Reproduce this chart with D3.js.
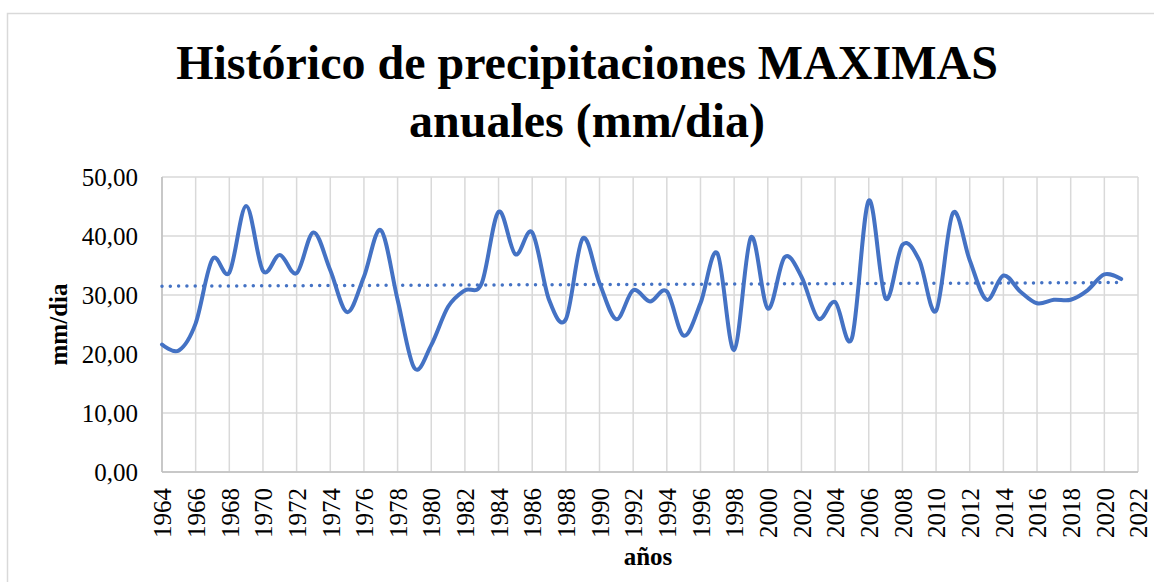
<!DOCTYPE html>
<html>
<head>
<meta charset="utf-8">
<script src="https://cdn.jsdelivr.net/npm/d3@7"></script>
<style>
  html, body { margin: 0; padding: 0; background: #fff; }
  svg text { font-family: "Liberation Serif", "Times New Roman", serif; fill: #000; }
</style>
</head>
<body>
<div id="chart"></div>
<script>
// data
const years = d3.range(1964, 2022);
const maxRain = [
  21.6, 20.6, 25.2, 36.1, 33.8, 45.1, 34.1, 36.8, 33.7, 40.6,
  34.2, 27.1, 33.1, 41.0, 29.2, 17.6, 21.5, 28.0, 30.8, 32.0,
  44.1, 36.9, 40.6, 29.2, 25.9, 39.6, 32.0, 25.9, 30.8, 28.9,
  30.6, 23.1, 28.6, 37.1, 20.7, 39.8, 27.7, 36.4, 33.1, 26.0,
  28.8, 22.7, 46.0, 29.4, 38.5, 35.9, 27.3, 43.9, 35.9, 29.2,
  33.3, 30.6, 28.6, 29.2, 29.2, 30.8, 33.5, 32.7
];
const yTicks = [0, 10, 20, 30, 40, 50];
const xTicks = d3.range(1964, 2023, 2);

const W = 1154, H = 582;
const plot = { left: 162, right: 1138, top: 177, bottom: 472 };

const svg = d3.select("#chart").append("svg")
  .attr("width", W).attr("height", H);

// chart border
svg.append("rect")
  .attr("x", 7.5).attr("y", 13.5)
  .attr("width", W + 20).attr("height", H + 20)
  .attr("fill", "#fff").attr("stroke", "#d9d9d9").attr("stroke-width", 1.5);

const x = d3.scaleLinear().domain([1964, 2022]).range([plot.left, plot.right]);
const y = d3.scaleLinear().domain([0, 50]).range([plot.bottom, plot.top]);

// grid
const grid = svg.append("g");
grid.selectAll("line.h").data(yTicks).join("line")
  .attr("x1", plot.left).attr("x2", plot.right)
  .attr("y1", d => y(d)).attr("y2", d => y(d))
  .attr("stroke", "#d9d9d9").attr("stroke-width", 1.5);
grid.selectAll("line.v").data(xTicks).join("line")
  .attr("x1", d => x(d)).attr("x2", d => x(d))
  .attr("y1", plot.top).attr("y2", plot.bottom)
  .attr("stroke", "#d9d9d9").attr("stroke-width", 1.5);
// axis baseline + left edge
svg.append("line")
  .attr("x1", plot.left).attr("x2", plot.right)
  .attr("y1", plot.bottom).attr("y2", plot.bottom)
  .attr("stroke", "#bfbfbf").attr("stroke-width", 1.5);
svg.append("line")
  .attr("x1", plot.left).attr("x2", plot.left)
  .attr("y1", plot.top).attr("y2", plot.bottom)
  .attr("stroke", "#bfbfbf").attr("stroke-width", 1.5);

// y axis
const yAxis = svg.append("g")
  .attr("transform", `translate(${plot.left},0)`)
  .call(d3.axisLeft(y).tickValues(yTicks).tickSize(0).tickPadding(24)
    .tickFormat(d => d3.format(".2f")(d).replace(".", ",")));
yAxis.select(".domain").remove();
yAxis.selectAll("text").style("font-size", "25px").attr("fill", "#000");

// x axis
const xAxis = svg.append("g")
  .attr("transform", `translate(0,${plot.bottom})`)
  .call(d3.axisBottom(x).tickValues(xTicks).tickSize(0).tickFormat(d3.format("d")));
xAxis.select(".domain").remove();
xAxis.selectAll("text")
  .style("font-size", "25px").attr("fill", "#000")
  .attr("transform", "rotate(-90)")
  .attr("text-anchor", "end")
  .attr("x", -16).attr("y", 0).attr("dy", "0.35em");

// titles
svg.append("text").attr("x", 587).attr("y", 79)
  .attr("text-anchor", "middle")
  .style("font-size", "48px").style("font-weight", "bold")
  .text("Histórico de precipitaciones MAXIMAS");
svg.append("text").attr("x", 587).attr("y", 137)
  .attr("text-anchor", "middle")
  .style("font-size", "48px").style("font-weight", "bold")
  .text("anuales (mm/dia)");
svg.append("text").attr("x", 648).attr("y", 565)
  .attr("text-anchor", "middle")
  .style("font-size", "25px").style("font-weight", "bold")
  .text("años");
svg.append("text")
  .attr("transform", `translate(67,${(plot.top + plot.bottom) / 2}) rotate(-90)`)
  .attr("text-anchor", "middle")
  .style("font-size", "25px").style("font-weight", "bold")
  .text("mm/dia");

// series
const pts = years.map((yr, i) => [yr, maxRain[i]]);

// linear trend (least squares)
const mx = d3.mean(years), my = d3.mean(maxRain);
const slope = d3.sum(pts, p => (p[0] - mx) * (p[1] - my)) / d3.sum(years, v => (v - mx) ** 2);
const icpt = my - slope * mx;
const trend = [years[0], years[years.length - 1]].map(v => [v, icpt + slope * v]);

svg.append("path")
  .datum(trend)
  .attr("d", d3.line().x(d => x(d[0])).y(d => y(d[1])))
  .attr("fill", "none").attr("stroke", "#4472c4")
  .attr("stroke-width", 3.5).attr("stroke-linecap", "round")
  .attr("stroke-dasharray", "0 8.3");

svg.append("path")
  .datum(pts)
  .attr("d", d3.line().x(d => x(d[0])).y(d => y(d[1])).curve(d3.curveCardinal.tension(0)))
  .attr("fill", "none").attr("stroke", "#4472c4")
  .attr("stroke-width", 4).attr("stroke-linejoin", "round").attr("stroke-linecap", "round");
</script>
</body>
</html>
